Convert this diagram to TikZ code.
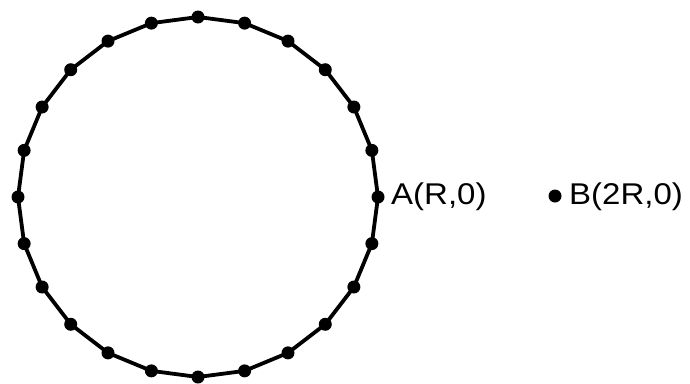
\documentclass[tikz,border=0pt]{standalone}
\usepackage{fontspec}
\setmainfont{Liberation Sans}
\usetikzlibrary{calc}
\begin{document}
\begin{tikzpicture}[x=1pt,y=-1pt,
  dot/.style={circle,fill=black,inner sep=0pt,minimum size=13pt},
  lbl/.style={anchor=west,inner sep=0pt,font=\fontsize{30}{31}\selectfont,xscale=1.1},
  edge/.style={line width=3.8pt,line join=round}]
\useasboundingbox (0,0) rectangle (690,383);
\coordinate (O) at (198,197);
\foreach \i in {0,...,23} {
  \node[dot] (p\i) at ($(O)+({\i*15}:180pt)$) {};
}
\foreach \i [evaluate=\i as \j using {int(mod(\i+1,24))}] in {0,...,23} {
  \draw[edge] (p\i.center) -- (p\j.center);
}
\node[lbl] (la) at (391,197) {A(R,0)};
\node[dot] (b) at (555,196) {};
\node[lbl] (lb) at (569,197) {B(2R,0)};
\end{tikzpicture}
\end{document}
